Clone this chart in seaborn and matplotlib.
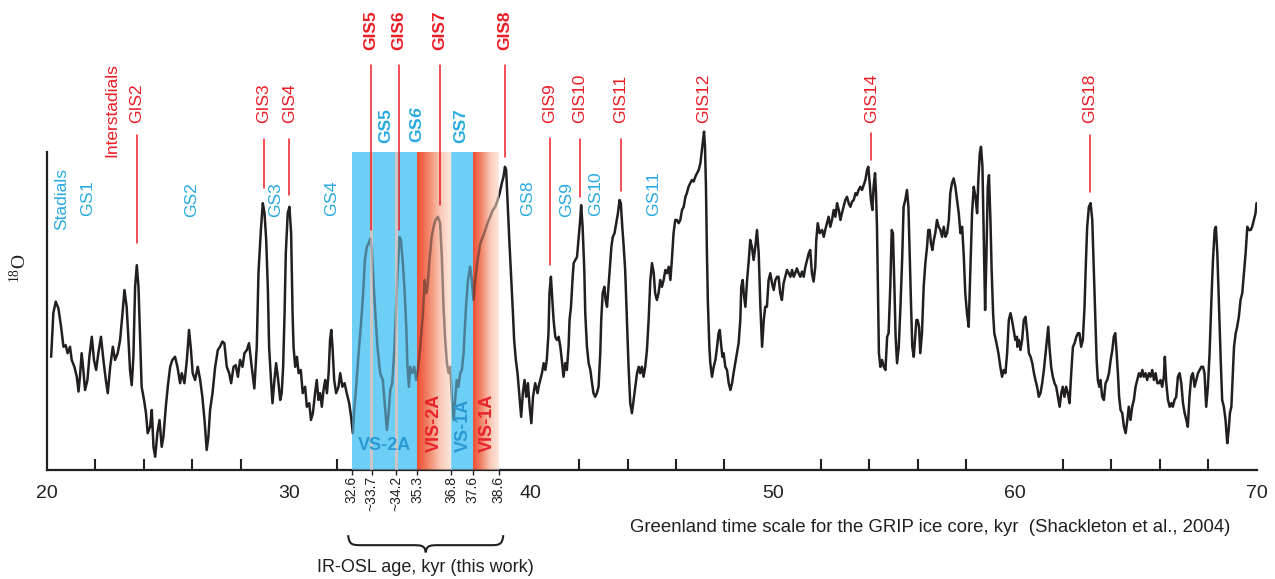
import matplotlib
matplotlib.use("Agg")
import matplotlib.pyplot as plt
import numpy as np
import seaborn as sns
from matplotlib.colors import LinearSegmentedColormap
from matplotlib.patches import PathPatch
from matplotlib.path import Path

# GRIP d18O record (age in kyr, d18O in per mil)
age_kyr = [
    20.17, 20.26, 20.36, 20.47, 20.58, 20.68, 20.77, 20.85, 20.95, 21.02,
    21.13, 21.23, 21.30, 21.36, 21.43, 21.50, 21.57, 21.67, 21.75, 21.85,
    21.94, 22.03, 22.12, 22.23, 22.33, 22.43, 22.51, 22.61, 22.72, 22.81,
    22.92, 23.02, 23.12, 23.20, 23.29, 23.36, 23.43, 23.50, 23.57, 23.64,
    23.71, 23.78, 23.85, 23.91, 24.01, 24.09, 24.16, 24.26, 24.33, 24.40,
    24.47, 24.56, 24.65, 24.74, 24.81, 24.91, 24.99, 25.09, 25.18, 25.29,
    25.39, 25.50, 25.57, 25.68, 25.78, 25.87, 25.95, 26.02, 26.12, 26.23,
    26.33, 26.42, 26.51, 26.60, 26.67, 26.74, 26.84, 26.95, 27.06, 27.15,
    27.25, 27.33, 27.43, 27.53, 27.61, 27.71, 27.80, 27.89, 27.98, 28.08,
    28.16, 28.26, 28.35, 28.46, 28.57, 28.67, 28.74, 28.84, 28.92, 28.99,
    29.06, 29.13, 29.18, 29.25, 29.32, 29.40, 29.47, 29.54, 29.64, 29.70,
    29.76, 29.82, 29.87, 29.95, 30.02, 30.09, 30.15,
    30.19, 30.26, 30.33, 30.40, 30.49, 30.57, 30.67, 30.74, 30.84, 30.91,
    30.99, 31.08, 31.15, 31.22, 31.29, 31.36, 31.43, 31.50, 31.57, 31.64,
    31.70, 31.75, 31.80, 31.87, 31.95, 32.05, 32.12, 32.21, 32.30, 32.39,
    32.49, 32.57, 32.64, 32.71, 32.78, 32.88, 32.97, 33.06, 33.14, 33.22,
    33.30, 33.36, 33.43, 33.50, 33.57, 33.66, 33.77, 33.88, 33.97, 34.05,
    34.12, 34.19, 34.27, 34.35, 34.42, 34.49, 34.57, 34.63, 34.71, 34.78,
    34.85, 34.90, 34.96, 35.01, 35.10, 35.18, 35.26, 35.33, 35.43, 35.54,
    35.61, 35.68, 35.73, 35.81, 35.90, 35.98, 36.06, 36.16, 36.25, 36.32,
    36.39, 36.46, 36.53, 36.60, 36.67, 36.74, 36.81, 36.87, 36.94, 37.01,
    37.08, 37.15, 37.22, 37.32, 37.40, 37.49, 37.56, 37.63, 37.70, 37.80,
    37.91, 38.02, 38.12, 38.21, 38.32, 38.43, 38.53, 38.63, 38.71, 38.80,
    38.87, 38.93, 38.98, 39.04, 39.11, 39.18, 39.26, 39.31, 39.38, 39.45,
    39.54, 39.60, 39.67, 39.74, 39.81, 39.88, 39.95, 40.02, 40.09, 40.18,
    40.28,
    40.32, 40.39, 40.46, 40.53, 40.60, 40.66, 40.73, 40.77, 40.83, 40.89,
    40.94, 41.01, 41.08, 41.15, 41.22, 41.28, 41.35, 41.42, 41.49, 41.56,
    41.60, 41.66, 41.73, 41.77, 41.84, 41.91, 41.97, 42.04, 42.08, 42.14,
    42.21, 42.25, 42.32, 42.39, 42.46, 42.53, 42.59, 42.66, 42.73, 42.80,
    42.87, 42.91, 42.97, 43.04, 43.09, 43.15, 43.21, 43.26, 43.33, 43.39,
    43.46, 43.53, 43.60, 43.67, 43.72, 43.78, 43.84, 43.90, 43.97, 44.04,
    44.11, 44.18, 44.25, 44.32, 44.39, 44.46, 44.52, 44.59, 44.66, 44.73,
    44.80, 44.87, 44.94, 45.01, 45.08, 45.14, 45.21, 45.28, 45.35, 45.42,
    45.49, 45.56, 45.63, 45.70, 45.77, 45.83, 45.90, 45.97, 46.04, 46.11,
    46.18, 46.25, 46.32, 46.39, 46.45, 46.52, 46.59, 46.66, 46.73, 46.80,
    46.87, 46.94, 47.01, 47.07, 47.12, 47.16, 47.20, 47.24, 47.28, 47.32,
    47.38, 47.42, 47.49, 47.56, 47.63, 47.70, 47.76, 47.81, 47.86, 47.92,
    47.97, 48.04, 48.11, 48.18, 48.25, 48.32, 48.38, 48.45, 48.52, 48.59,
    48.66, 48.70, 48.76, 48.80, 48.87, 48.94, 49.00, 49.07, 49.14, 49.21,
    49.28, 49.35, 49.42, 49.49, 49.56, 49.63, 49.69, 49.76, 49.83, 49.90,
    49.97, 50.04, 50.11, 50.18,
    50.24, 50.31, 50.38, 50.45, 50.52, 50.59, 50.66, 50.73, 50.80, 50.87,
    50.93, 51.00, 51.07, 51.14, 51.21, 51.28, 51.35, 51.42, 51.49, 51.55,
    51.62, 51.69, 51.76, 51.80, 51.86, 51.94, 52.04, 52.11, 52.17, 52.24,
    52.31, 52.38, 52.45, 52.52, 52.59, 52.66, 52.73, 52.80, 52.86, 52.93,
    53.00, 53.07, 53.14, 53.21, 53.28, 53.35, 53.42, 53.48, 53.55, 53.62,
    53.69, 53.76, 53.83, 53.90, 53.95, 54.01, 54.06, 54.12, 54.17, 54.23,
    54.27, 54.31, 54.35, 54.39, 54.45, 54.52, 54.59, 54.66, 54.73, 54.79,
    54.86, 54.92, 54.97, 55.03, 55.08, 55.14, 55.21, 55.28, 55.35, 55.41,
    55.48, 55.55, 55.61, 55.66, 55.72, 55.77, 55.83, 55.88, 55.94, 55.99,
    56.05, 56.10, 56.17, 56.24, 56.31, 56.38, 56.43, 56.49, 56.54, 56.60,
    56.66, 56.72, 56.79, 56.86, 56.93, 57.00, 57.07, 57.14, 57.21, 57.28,
    57.34, 57.41, 57.48, 57.55, 57.62, 57.69, 57.76, 57.83, 57.90, 57.96,
    58.03, 58.10, 58.17, 58.24, 58.31, 58.38, 58.45, 58.50, 58.56, 58.61,
    58.67, 58.72, 58.78, 58.83, 58.89, 58.94, 59.00, 59.05, 59.11, 59.16,
    59.25, 59.33, 59.41, 59.48, 59.55, 59.62, 59.69, 59.76, 59.83, 59.89,
    59.96, 60.03, 60.10,
    60.11, 60.18, 60.24, 60.31, 60.38, 60.45, 60.52, 60.59, 60.66, 60.73,
    60.80, 60.86, 60.93, 61.00, 61.07, 61.14, 61.21, 61.28, 61.35, 61.39,
    61.44, 61.51, 61.58, 61.65, 61.72, 61.79, 61.86, 61.93, 61.99, 62.06,
    62.13, 62.20, 62.27, 62.34, 62.41, 62.48, 62.55, 62.62, 62.68, 62.75,
    62.82, 62.89, 62.95, 63.00, 63.07, 63.14, 63.21, 63.28, 63.35, 63.39,
    63.44, 63.50, 63.55, 63.62, 63.69, 63.76, 63.83, 63.90, 63.97, 64.04,
    64.10, 64.16, 64.21, 64.27, 64.32, 64.38, 64.45, 64.52, 64.59, 64.66,
    64.72, 64.79, 64.86, 64.93, 65.00, 65.07, 65.14, 65.21, 65.28, 65.34,
    65.41, 65.48, 65.55, 65.62, 65.69, 65.76, 65.83, 65.90, 65.97, 66.03,
    66.10, 66.17, 66.21, 66.27, 66.34, 66.41, 66.48, 66.54, 66.61, 66.68,
    66.75, 66.82, 66.89, 66.96, 67.03, 67.10, 67.16, 67.23, 67.30, 67.37,
    67.44, 67.51, 67.58, 67.65, 67.72, 67.79, 67.85, 67.92, 67.99, 68.06,
    68.13, 68.20, 68.27, 68.32, 68.38, 68.45, 68.52, 68.58, 68.65, 68.72,
    68.79, 68.85, 68.90, 68.96, 69.01, 69.07, 69.14, 69.20, 69.27, 69.34,
    69.41, 69.48, 69.55, 69.62, 69.69, 69.76, 69.82, 69.89, 69.96, 70.00,
]

d18o = [
    -42.17, -41.08, -40.79, -40.96, -41.42, -41.92, -41.88, -42.08, -41.92, -42.25,
    -42.42, -42.67, -43.04, -42.67, -42.08, -42.50, -43.00, -42.75, -42.17, -41.67,
    -42.25, -42.50, -42.08, -41.67, -42.25, -42.75, -43.08, -42.42, -41.92, -42.25,
    -42.08, -41.75, -41.08, -40.50, -40.92, -41.67, -42.50, -42.88, -42.17, -40.42,
    -39.88, -40.42, -41.75, -42.92, -43.25, -43.58, -44.08, -43.92, -43.50, -44.42,
    -44.67, -44.08, -43.75, -44.42, -44.17, -43.42, -42.92, -42.42, -42.25, -42.17,
    -42.42, -42.83, -42.58, -42.83, -42.25, -41.50, -42.00, -42.58, -42.75, -42.42,
    -42.75, -43.17, -43.75, -44.50, -44.17, -43.50, -43.08, -42.42, -42.00, -41.92,
    -41.79, -41.83, -42.42, -42.58, -42.83, -42.42, -42.38, -42.67, -42.25, -42.42,
    -42.08, -42.00, -41.83, -42.42, -42.96, -41.92, -40.08, -39.00, -38.33, -38.58,
    -39.25, -40.50, -41.92, -42.67, -43.33, -42.75, -42.33, -42.67, -43.25, -43.08,
    -42.42, -41.08, -39.58, -38.58, -38.42, -39.08, -41.08,
    -41.92, -42.42, -42.17, -42.58, -42.50, -43.08, -42.92, -43.42, -43.33, -43.75,
    -43.58, -43.08, -42.75, -43.25, -43.08, -43.42, -43.00, -42.75, -43.08, -42.58,
    -41.75, -41.50, -41.92, -42.75, -43.08, -42.92, -42.58, -42.92, -42.83, -43.08,
    -43.33, -43.67, -44.08, -43.42, -42.92, -42.08, -41.42, -40.67, -39.75, -39.42,
    -39.33, -39.21, -39.50, -40.33, -41.08, -41.92, -42.58, -42.75, -43.42, -44.00,
    -43.58, -43.00, -42.83, -42.08, -41.08, -40.08, -39.17, -39.25, -39.83, -40.50,
    -41.42, -42.42, -42.92, -42.42, -42.58, -42.42, -42.75, -42.50, -41.92, -41.08,
    -40.25, -40.58, -40.42, -39.75, -39.17, -38.92, -38.75, -38.67, -38.83, -39.67,
    -40.92, -41.75, -42.33, -42.58, -42.42, -43.25, -43.75, -43.25, -42.75, -42.92,
    -42.58, -42.50, -42.08, -40.92, -40.25, -39.92, -40.25, -40.75, -40.25, -39.75,
    -39.33, -39.17, -39.00, -38.83, -38.67, -38.50, -38.42, -38.25, -38.08, -37.83,
    -37.67, -37.42, -37.50, -38.33, -39.25, -40.08, -41.08, -41.75, -42.25, -42.58,
    -43.25, -43.67, -43.08, -42.75, -43.17, -42.83, -43.42, -43.83, -43.17, -42.83,
    -43.08,
    -42.92, -42.75, -42.58, -42.33, -42.50, -42.25, -41.58, -40.58, -40.17, -40.75,
    -41.25, -41.67, -41.75, -41.67, -41.92, -42.25, -42.67, -42.33, -42.50, -41.92,
    -41.25, -40.92, -40.17, -39.83, -39.75, -39.67, -39.25, -38.75, -38.38, -38.92,
    -40.00, -41.08, -41.92, -42.33, -42.50, -42.83, -43.08, -43.17, -43.08, -42.92,
    -42.08, -41.25, -40.58, -40.42, -40.75, -40.92, -40.42, -40.00, -39.42, -39.17,
    -39.08, -38.83, -38.58, -38.25, -38.33, -38.92, -39.42, -40.00, -41.25, -42.42,
    -43.33, -43.58, -43.25, -42.92, -42.58, -42.42, -42.58, -42.42, -42.67, -42.42,
    -42.00, -41.25, -40.25, -39.83, -40.08, -40.58, -40.75, -40.58, -40.25, -40.42,
    -40.25, -40.00, -40.08, -39.92, -40.25, -39.75, -39.08, -38.75, -38.75, -38.83,
    -38.75, -38.50, -38.42, -38.17, -38.08, -37.92, -37.83, -37.75, -37.79, -37.67,
    -37.58, -37.50, -37.33, -37.00, -36.75, -36.54, -36.92, -37.92, -39.58, -40.83,
    -41.92, -42.33, -42.67, -42.42, -42.25, -41.92, -41.58, -41.50, -41.83, -42.17,
    -42.08, -42.42, -42.50, -42.83, -43.00, -42.83, -42.58, -42.33, -42.08, -41.83,
    -41.25, -40.42, -40.25, -40.58, -40.92, -40.25, -39.83, -39.25, -39.42, -39.75,
    -39.42, -39.00, -39.58, -40.92, -41.92, -41.25, -40.92, -40.92, -40.25, -40.08,
    -40.33, -40.50, -40.25, -40.17,
    -40.17, -40.58, -40.75, -40.33, -40.17, -40.00, -40.08, -40.17, -40.00, -40.17,
    -40.08, -39.96, -40.08, -40.17, -40.04, -40.17, -39.92, -39.75, -39.58, -39.50,
    -40.08, -40.29, -39.92, -39.25, -38.83, -39.08, -39.00, -39.17, -39.00, -38.83,
    -38.67, -38.92, -38.75, -38.50, -38.67, -38.33, -38.50, -38.75, -38.58, -38.42,
    -38.25, -38.17, -38.33, -38.42, -38.29, -38.25, -38.08, -38.13, -38.00, -37.92,
    -38.00, -37.88, -37.75, -37.50, -37.42, -37.83, -38.25, -38.50, -37.92, -37.58,
    -38.08, -38.92, -40.58, -42.08, -42.42, -42.25, -42.42, -42.50, -41.67, -41.58,
    -40.42, -39.00, -39.08, -40.42, -41.67, -42.33, -41.92, -40.92, -39.75, -38.42,
    -38.25, -38.00, -38.42, -39.58, -40.92, -41.92, -42.17, -41.75, -41.25, -41.25,
    -41.42, -42.08, -41.58, -40.42, -39.83, -39.42, -39.00, -39.00, -39.33, -39.50,
    -39.25, -39.08, -38.75, -38.92, -39.00, -39.17, -38.92, -39.17, -39.08, -38.75,
    -38.08, -37.83, -37.71, -37.92, -38.25, -38.58, -39.08, -38.92, -39.67, -40.58,
    -41.08, -41.42, -40.00, -38.58, -37.92, -38.17, -38.58, -37.75, -37.08, -36.92,
    -37.42, -39.00, -41.00, -39.75, -37.92, -37.63, -38.75, -40.00, -41.08, -41.58,
    -41.83, -42.08, -42.42, -42.67, -42.50, -42.58, -42.08, -41.25, -41.08, -41.25,
    -41.50, -41.75, -41.67,
    -41.92, -41.75, -42.00, -41.75, -41.25, -41.17, -41.58, -42.08, -42.17, -42.33,
    -42.58, -42.75, -42.92, -43.17, -43.08, -42.83, -42.50, -42.08, -41.67, -41.42,
    -41.92, -42.42, -42.67, -42.83, -42.92, -43.17, -43.42, -43.08, -42.92, -43.17,
    -42.92, -43.08, -43.33, -42.58, -41.92, -41.83, -41.67, -41.58, -41.58, -41.92,
    -41.75, -40.92, -39.75, -38.92, -38.42, -38.33, -38.75, -40.08, -41.42, -42.25,
    -42.75, -42.92, -42.75, -43.17, -43.25, -42.83, -42.75, -42.58, -42.25, -42.00,
    -41.67, -41.58, -42.00, -42.58, -43.17, -43.50, -43.58, -43.92, -44.08, -43.75,
    -43.42, -43.75, -43.42, -43.25, -42.92, -42.75, -42.58, -42.67, -42.50, -42.67,
    -42.58, -42.75, -42.58, -42.67, -42.50, -42.75, -42.58, -42.83, -42.83, -42.75,
    -42.92, -42.67, -42.17, -42.83, -43.25, -43.42, -43.33, -43.42, -43.25, -43.17,
    -42.67, -42.58, -42.83, -43.33, -43.58, -43.75, -43.92, -43.17, -42.67, -42.58,
    -42.92, -42.75, -42.58, -42.50, -42.42, -42.42, -42.58, -43.42, -42.92, -42.08,
    -40.83, -39.75, -39.00, -38.92, -39.58, -40.92, -42.25, -43.25, -43.42, -43.75,
    -44.33, -44.00, -43.58, -43.42, -42.75, -41.92, -41.58, -41.42, -41.17, -40.75,
    -40.58, -40.08, -39.58, -38.92, -39.00, -39.00, -38.92, -38.75, -38.58, -38.33,
]

# IR-OSL sample bands (kyr on the GRIP scale) and their labels
band_edges = [32.6, 35.3, 36.72, 37.6, 38.67]
band_kinds = ["VS", "VIS", "VS", "VIS"]
strip_ages = [(33.36, 33.48), (34.38, 34.50)]
osl_tick_pos = [32.6, 33.42, 34.44, 35.3, 36.72, 37.6, 38.67]
osl_tick_labels = ["32.6", "~33.7", "~34.2", "35.3", "36.8", "37.6", "38.6"]

# Interstadial markers
gis_names = ["GIS2", "GIS3", "GIS4", "GIS5", "GIS6", "GIS7", "GIS8",
             "GIS9", "GIS10", "GIS11", "GIS12", "GIS14", "GIS18"]
gis_age = [23.70, 28.95, 30.02, 33.39, 34.55, 36.23, 38.93,
           40.79, 42.03, 43.71, 47.16, 54.08, 63.10]
gis_bold = [False, False, False, True, True, True, True,
            False, False, False, False, False, False]
gis_line_top = [-36.63, -36.73, -36.73, -34.88, -34.88, -34.88, -34.88,
                -36.70, -36.73, -36.73, None, -36.58, -36.63]
gis_line_bottom = [-39.33, -37.95, -38.13, -39.00, -39.00, -38.38, -37.18,
                   -39.88, -38.18, -38.03, None, -37.25, -38.05]

# Stadial labels
gs_names = ["GS$\\mathit{1}$", "GS2", "GS3", "GS$\\mathit{4}$", "GS5",
            "GS$\\mathbfit{6}$", "GS7", "GS$\\mathit{8}$", "GS9",
            "GS$\\mathit{10}$", "GS$\\mathit{11}$"]
gs_age = [21.69, 25.99, 29.47, 31.78, 34.01, 35.30, 37.11, 39.88, 41.50, 42.70, 45.09]
gs_bold = [False, False, False, False, True, True, True, False, False, False, False]

# Style
sns.set_theme(style="white")
plt.rcParams["font.family"] = ["Liberation Sans", "DejaVu Sans"]
plt.rcParams["mathtext.fontset"] = "custom"
plt.rcParams["mathtext.rm"] = "Liberation Sans"
plt.rcParams["mathtext.it"] = "Liberation Sans:italic"
plt.rcParams["mathtext.bf"] = "Liberation Sans:bold"
try:
    plt.rcParams["mathtext.bfit"] = "Liberation Sans:italic:bold"
except KeyError:
    gs_names = [n.replace("\\mathbfit", "\\mathbf") for n in gs_names]

INK = "#231F20"
RED = "#ED1C24"
CYAN = "#27AAE1"
BAND_BLUE = "#6DCFF6"
STRIP = "#EDC6B8"
LABEL_BLUE = "#2B9AD4"
red_cmap = LinearSegmentedColormap.from_list(
    "vis", [(0.0, "#EE4E33"), (0.3, "#F28064"), (0.65, "#F9C7B4"), (1.0, "#FDE9E0")])

Y0, Y1 = -45.0, -37.05

fig = plt.figure(figsize=(12.75, 5.79), dpi=100)
ax = fig.add_axes([0.0369, 0.1883, 0.9486, 0.8117])


def draw_bands(alpha, z):
    grad = np.linspace(0, 1, 256).reshape(1, -1)
    for x0, x1, kind in zip(band_edges[:-1], band_edges[1:], band_kinds):
        if kind == "VS":
            ax.fill_between([x0, x1], Y0, Y1, color=BAND_BLUE, alpha=alpha,
                            linewidth=0, zorder=z)
        else:
            ax.imshow(grad, extent=[x0, x1, Y0, Y1], cmap=red_cmap, aspect="auto",
                      alpha=alpha, zorder=z, interpolation="bilinear")
    for s0, s1 in strip_ages:
        ax.fill_between([s0, s1], Y0, Y1, color=STRIP, alpha=alpha,
                        linewidth=0, zorder=z)


draw_bands(1.0, 1)
sns.lineplot(x=age_kyr, y=d18o, ax=ax, color=INK, linewidth=1.8,
             estimator=None, sort=False, zorder=2)
draw_bands(0.55, 3)

# axes
ax.set_xlim(20, 70)
ax.set_ylim(-45, -33.25)
ax.set_xlabel("")
ax.set_ylabel("")
ax.set_yticks([])
ax.set_xticks(range(20, 71, 10))
ax.set_xticks(np.arange(22, 70, 2), minor=True)
ax.tick_params(axis="x", which="major", direction="in", length=13.5, width=1.5,
               color=INK, labelsize=14, labelcolor=INK, pad=11)
ax.tick_params(axis="x", which="minor", direction="in", length=8, width=1.5,
               color=INK, bottom=True)
ax.xaxis.get_major_ticks()[-1].tick1line.set_markersize(8)
for side in ("top", "right"):
    ax.spines[side].set_visible(False)
for side in ("left", "bottom"):
    ax.spines[side].set_color(INK)
    ax.spines[side].set_linewidth(1.6)
ax.spines["left"].set_bounds(Y0, Y1)

# GIS labels and marker lines
for name, x, bold, lt, lb in zip(gis_names, gis_age, gis_bold, gis_line_top, gis_line_bottom):
    ax.text(x, -34.5 if bold else -36.33, name, rotation=90, ha="center", va="bottom",
            color=RED, fontsize=12.5, fontweight="bold" if bold else "normal", zorder=5)
    if lt is not None:
        ax.plot([x, x], [lb, lt], color=RED, linewidth=1.1, zorder=4, clip_on=False)
ax.text(22.69, -37.18, "Interstadials", rotation=90, ha="center", va="bottom",
        color=RED, fontsize=12.5)

# GS labels
ax.text(20.62, -39.0, "Stadials", rotation=90, ha="center", va="bottom",
        color=CYAN, fontsize=12.5)
for name, x, bold in zip(gs_names, gs_age, gs_bold):
    ax.text(x, -36.83 if bold else -38.68, name, rotation=90, ha="center", va="bottom",
            color=CYAN, fontsize=12.5, fontweight="bold" if bold else "normal", zorder=5)

# sample labels inside bands
ax.text(33.97, -44.38, "VS-2A", ha="center", va="center", color=LABEL_BLUE,
        fontsize=13, fontweight="bold", zorder=5)
for x, txt, col in [(36.0, "VIS-2A", "#E8232B"), (37.20, "VS-1A", LABEL_BLUE),
                    (38.19, "VIS-1A", "#E8232B")]:
    ax.text(x, -44.55, txt, rotation=90, ha="center", va="bottom", color=col,
            fontsize=13, fontweight="bold", zorder=5)

# IR-OSL ages under the axis
ax.vlines(osl_tick_pos, -45.12, -45.0, color=INK, linewidth=1, clip_on=False)
for x, lab in zip(osl_tick_pos, osl_tick_labels):
    ax.text(x, -45.15, lab, rotation=90, ha="center", va="top", fontsize=10,
            color=INK)

# curly brace under the OSL ages
bx0, bx1 = 32.45, 38.86
bxc = (bx0 + bx1) / 2
by_top, by_mid, by_bot = -46.63, -46.88, -47.06
verts = [
    (bx0, by_top), (bx0 + 0.03, by_mid), (bx0 + 0.2, by_mid), (bx0 + 0.55, by_mid),
    (bxc - 0.55, by_mid),
    (bxc - 0.2, by_mid), (bxc - 0.03, by_mid), (bxc, by_bot),
    (bxc + 0.03, by_mid), (bxc + 0.2, by_mid), (bxc + 0.55, by_mid),
    (bx1 - 0.55, by_mid),
    (bx1 - 0.2, by_mid), (bx1 - 0.03, by_mid), (bx1, by_top),
]
codes = [Path.MOVETO, Path.CURVE4, Path.CURVE4, Path.CURVE4, Path.LINETO,
         Path.CURVE4, Path.CURVE4, Path.CURVE4, Path.CURVE4, Path.CURVE4, Path.CURVE4,
         Path.LINETO, Path.CURVE4, Path.CURVE4, Path.CURVE4]
ax.add_patch(PathPatch(Path(verts, codes), facecolor="none", edgecolor=INK,
                       linewidth=1.5, clip_on=False))

ax.text(35.63, -47.43, "IR-OSL age, kyr (this work)", ha="center", va="center",
        fontsize=13, color=INK)
ax.text(56.50, -46.43, "Greenland time scale for the GRIP ice core, kyr  (Shackleton et al., 2004)",
        ha="center", va="center", fontsize=13.4, color=INK)

# y label
ax.text(18.88, -39.95, "$\\mathregular{^{18}}$O", rotation=90, ha="center", va="center",
        fontsize=14, color=INK, family=["Liberation Serif", "DejaVu Serif"])

fig.savefig("out.png", dpi=100)
plt.close(fig)
